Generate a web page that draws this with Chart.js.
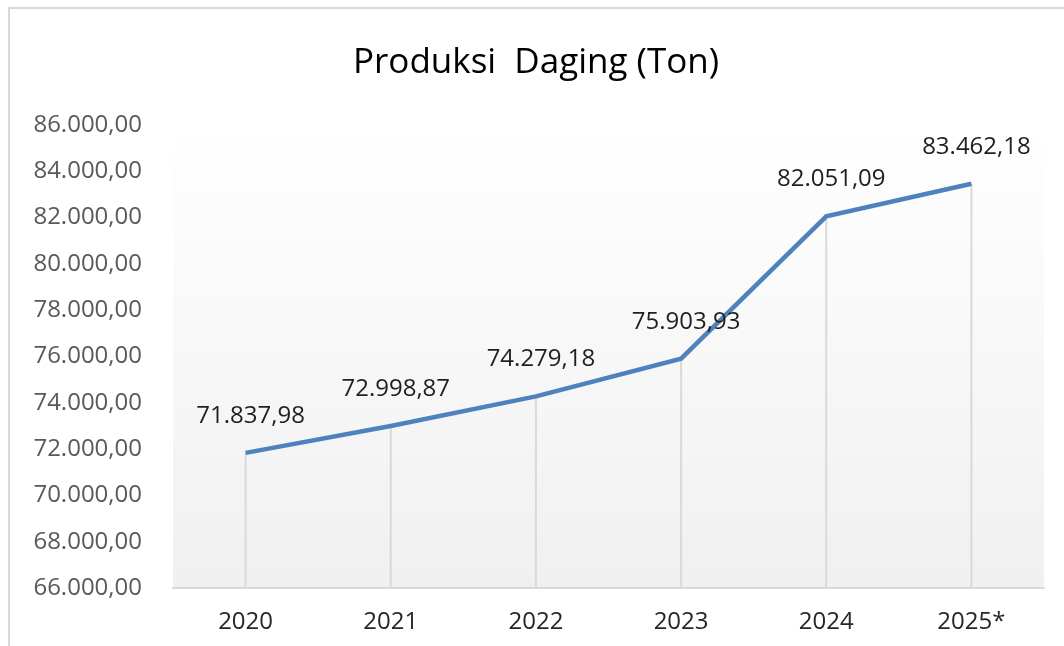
<!DOCTYPE html>
<html>
<head>
<meta charset="utf-8">
<title>Produksi Daging (Ton)</title>
<script src="https://cdn.jsdelivr.net/npm/chart.js@4/dist/chart.umd.min.js"></script>
<style>
  html, body { margin: 0; padding: 0; background: #ffffff; }
  #wrap { position: relative; width: 1064px; height: 646px; }
</style>
</head>
<body>
<div id="wrap"><canvas id="chart_ProduksiDaging"></canvas></div>
<script>
"use strict";

// Data
var _years = ['2020', '2021', '2022', '2023', '2024', '2025*'];
var _produksi = [71837.98, 72998.87, 74279.18, 75903.93, 82051.09, 83462.18];

// Y axis range
var _y_min = 66000;
var _y_max = 86000;
var _y_step = 2000;

var _font_family = "'Open Sans', 'Noto Sans', sans-serif";

// Indonesian number format: 86.000,00
function _format_id(_value) {
    var _parts = Number(_value).toFixed(2).split('.');
    var _int = _parts[0].replace(/\B(?=(\d{3})+(?!\d))/g, '.');
    return _int + ',' + _parts[1];
}

// Outer border + plot area gradient
var _background_plugin = {
    id: 'background_plugin',
    beforeDraw: function(_chart) {
        var _ctx = _chart.ctx;
        var _area = _chart.chartArea;

        _ctx.save();
        _ctx.strokeStyle = '#d9d9d9';
        _ctx.lineWidth = 2;
        _ctx.beginPath();
        _ctx.moveTo(9, _chart.height);
        _ctx.lineTo(9, 8);
        _ctx.lineTo(_chart.width, 8);
        _ctx.stroke();

        var _gradient = _ctx.createLinearGradient(0, _area.top, 0, _area.bottom);
        _gradient.addColorStop(0, '#ffffff');
        _gradient.addColorStop(1, '#f0f0f0');
        _ctx.fillStyle = _gradient;
        _ctx.fillRect(_area.left, _area.top, _area.right - _area.left, _area.bottom - _area.top);
        _ctx.restore();
    }
};

// Drop lines from every point down to the x axis
var _droplines_plugin = {
    id: 'droplines_plugin',
    beforeDatasetsDraw: function(_chart) {
        var _ctx = _chart.ctx;
        var _meta = _chart.getDatasetMeta(0);
        var _bottom = _chart.chartArea.bottom;

        _ctx.save();
        _ctx.strokeStyle = '#d9d9d9';
        _ctx.lineWidth = 2;
        _meta.data.forEach(function(_point) {
            _ctx.beginPath();
            _ctx.moveTo(_point.x, _point.y);
            _ctx.lineTo(_point.x, _bottom);
            _ctx.stroke();
        });
        _ctx.restore();
    }
};

// Value labels above the points
var _labels_plugin = {
    id: 'labels_plugin',
    afterDatasetsDraw: function(_chart) {
        var _ctx = _chart.ctx;
        var _meta = _chart.getDatasetMeta(0);
        var _values = _chart.data.datasets[0].data;

        _ctx.save();
        _ctx.font = '24px ' + _font_family;
        _ctx.fillStyle = '#1f1f1f';
        _ctx.textAlign = 'center';
        _ctx.textBaseline = 'middle';
        _meta.data.forEach(function(_point, _i) {
            _ctx.fillText(_format_id(_values[_i]), _point.x + 5, _point.y - 37);
        });
        _ctx.restore();
    }
};

var _canvas = document.getElementById('chart_ProduksiDaging');

var _chart = new Chart(_canvas, {
    type: 'line',
    data: {
        labels: _years,
        datasets: [{
            label: 'Produksi Daging (Ton)',
            data: _produksi,
            borderColor: '#4f81bd',
            borderWidth: 4.5,
            pointRadius: 0,
            pointHoverRadius: 0,
            tension: 0,
            fill: false
        }]
    },
    options: {
        responsive: true,
        maintainAspectRatio: false,
        animation: false,
        layout: {
            padding: { left: 28, right: 20, top: 0, bottom: 0 }
        },
        plugins: {
            legend: { display: false },
            tooltip: { enabled: false },
            title: {
                display: true,
                text: 'Produksi  Daging (Ton)',
                color: '#000000',
                font: { family: _font_family, size: 35, weight: 'normal' },
                padding: { top: 42, bottom: 41 }
            }
        },
        scales: {
            x: {
                offset: true,
                grid: { display: false, drawTicks: false },
                border: { display: true, color: '#d9d9d9', width: 2 },
                ticks: {
                    color: '#262626',
                    font: { family: _font_family, size: 24 },
                    padding: 20
                },
                afterFit: function(_scale) { _scale.height = 58; }
            },
            y: {
                min: _y_min,
                max: _y_max,
                grid: { display: false, drawTicks: false },
                border: { display: false },
                ticks: {
                    stepSize: _y_step,
                    color: '#595959',
                    font: { family: _font_family, size: 24 },
                    padding: 31,
                    callback: function(_value) { return _format_id(_value); }
                },
                afterFit: function(_scale) { _scale.width = 145; }
            }
        }
    },
    plugins: [_background_plugin, _droplines_plugin, _labels_plugin]
});
</script>
</body>
</html>
